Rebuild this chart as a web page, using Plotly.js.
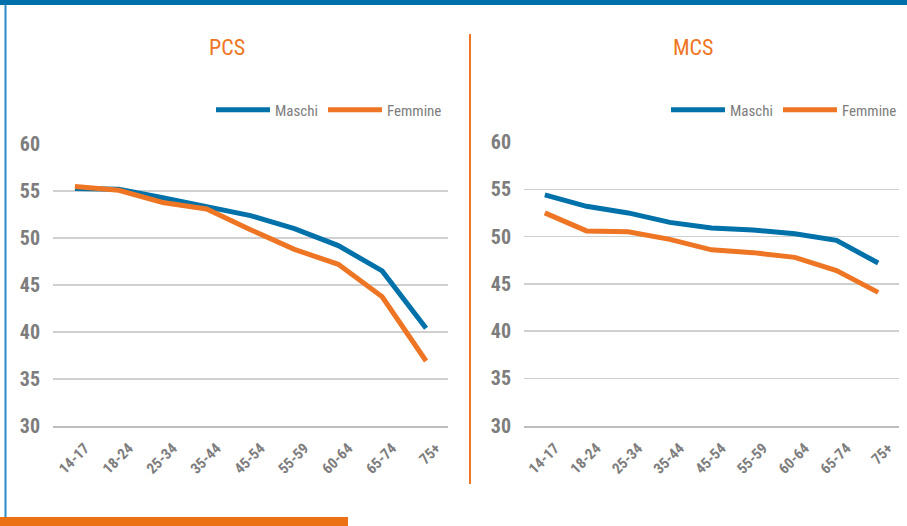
<!DOCTYPE html>
<html>
<head>
<meta charset="utf-8">
<script src="https://cdn.plot.ly/plotly-3.0.1.min.js"></script>
<style>html,body{margin:0;padding:0;background:#fff;}#chart{width:907px;height:526px;}</style>
</head>
<body>
<div id="chart"></div>
<script>
const categories = ["14-17","18-24","25-34","35-44","45-54","55-59","60-64","65-74","75+"];
const pcsMaschi  = [55.3, 55.2, 54.3, 53.4, 52.4, 51.0, 49.2, 46.5, 40.4];
const pcsFemmine = [55.5, 55.1, 53.8, 53.1, 50.9, 48.8, 47.2, 43.75, 36.9];
const mcsMaschi  = [54.4, 53.2, 52.5, 51.5, 50.9, 50.7, 50.3, 49.6, 47.2];
const mcsFemmine = [52.5, 50.6, 50.5, 49.7, 48.6, 48.3, 47.8, 46.4, 44.1];
const yTicks = [30, 35, 40, 45, 50, 55, 60];
const panelTitles = ["PCS", "MCS"];
const seriesNames = ["Maschi", "Femmine"];

const W = 907, H = 526;
const BLUE = "#0071A9", ORANGE = "#EE7523", GRAY = "#7D7D7D";
const FONT = "'Roboto Condensed', 'DejaVu Sans Condensed', sans-serif";
const px = v => v / W;
const py = v => 1 - v / H;

function line(x, y, name, color, xa, ya, leg, show) {
  return {x: x, y: y, name: name, type: "scatter", mode: "lines",
    line: {color: color, width: 5, shape: "linear"},
    xaxis: xa, yaxis: ya, legend: leg, showlegend: show, hoverinfo: "skip"};
}

const data = [
  line(categories, pcsMaschi, seriesNames[0], BLUE, "x", "y", "legend", true),
  line(categories, pcsFemmine, seriesNames[1], ORANGE, "x", "y", "legend", true),
  line(categories, mcsMaschi, seriesNames[0], BLUE, "x2", "y2", "legend2", true),
  line(categories, mcsFemmine, seriesNames[1], ORANGE, "x2", "y2", "legend2", true)
];

function xax(domain, anchor) {
  return {domain: domain, anchor: anchor, type: "category", tickangle: -45,
    range: [-0.5, categories.length - 0.5],
    showgrid: false, zeroline: false, showline: true, linecolor: "#BDBDBD", linewidth: 2,
    ticks: "", ticklabelshift: 10, ticklabelstandoff: 6,
    tickfont: {family: FONT, size: 15, color: GRAY, weight: "bold"}, fixedrange: true};
}
function yax(domain, anchor) {
  return {domain: domain, anchor: anchor, range: [30, 60], tickvals: yTicks,
    showgrid: true, gridcolor: "#D0D0D0", gridwidth: 1.5, zeroline: false, showline: false,
    ticks: "", ticklabelstandoff: 12,
    tickfont: {family: FONT, size: 20, color: GRAY, weight: "bold"}, fixedrange: true};
}

const legendCommon = {orientation: "h", yanchor: "middle", xanchor: "left",
  font: {family: FONT, size: 15, color: GRAY}, bgcolor: "rgba(0,0,0,0)",
  itemwidth: 54, traceorder: "normal", itemclick: false};

const layout = {
  width: W, height: H, margin: {l: 0, r: 0, t: 0, b: 0},
  paper_bgcolor: "#fff", plot_bgcolor: "#fff", showlegend: true,
  xaxis: xax([px(53), px(448)], "y"),
  yaxis: yax([py(425.7), py(144.3)], "x"),
  xaxis2: xax([px(524), px(899)], "y2"),
  yaxis2: yax([py(425.7), py(142)], "x2"),
  legend: Object.assign({x: px(211), y: py(110)}, legendCommon),
  legend2: Object.assign({x: px(666), y: py(110)}, legendCommon),
  annotations: [
    {text: panelTitles[0], xref: "paper", yref: "paper", x: px(227), y: py(47), showarrow: false,
      xanchor: "center", yanchor: "middle", font: {family: FONT, size: 22, color: ORANGE}},
    {text: panelTitles[1], xref: "paper", yref: "paper", x: px(693), y: py(47), showarrow: false,
      xanchor: "center", yanchor: "middle", font: {family: FONT, size: 22, color: ORANGE}}
  ],
  shapes: [
    {type: "rect", xref: "paper", yref: "paper", x0: 0, x1: 1, y0: py(5), y1: 1, fillcolor: "#0070AB", line: {width: 0}},
    {type: "line", xref: "paper", yref: "paper", x0: px(5.5), x1: px(5.5), y0: 0, y1: py(5), line: {color: "#2B8AC8", width: 2}},
    {type: "line", xref: "paper", yref: "paper", x0: px(470), x1: px(470), y0: py(484), y1: py(34), line: {color: ORANGE, width: 2}},
    {type: "rect", xref: "paper", yref: "paper", x0: 0, x1: px(348), y0: 0, y1: py(517), fillcolor: "#EC7014", line: {width: 0}}
  ]
};

Plotly.newPlot("chart", data, layout, {displayModeBar: false, staticPlot: true});
</script>
</body>
</html>
